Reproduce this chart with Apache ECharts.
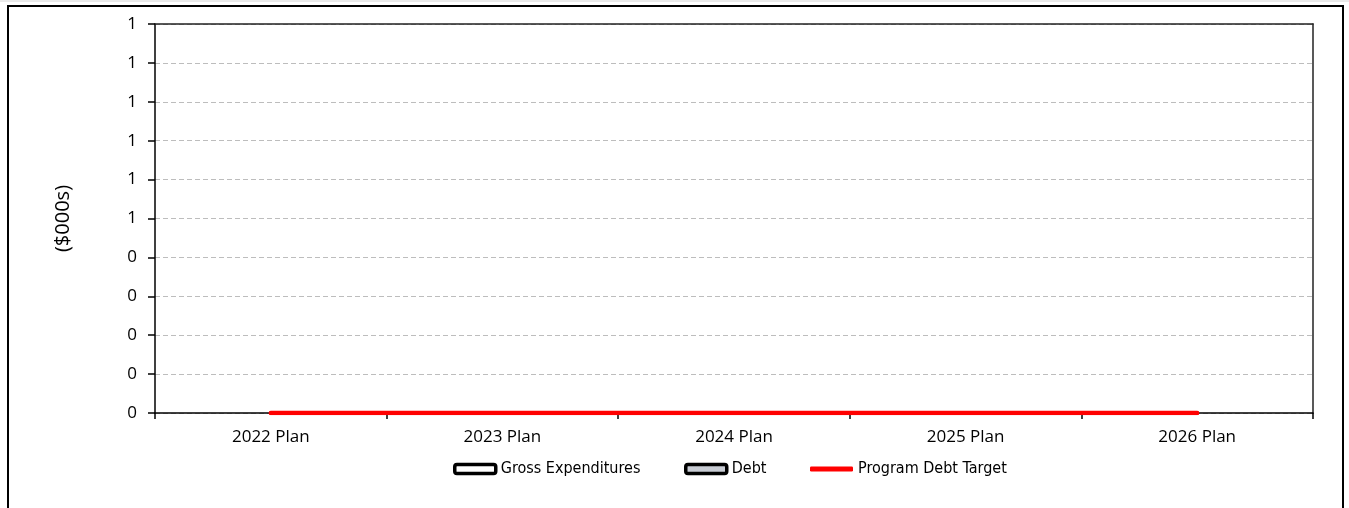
<!DOCTYPE html>
<html>
<head>
<meta charset="utf-8">
<script src="https://cdn.jsdelivr.net/npm/echarts@6/dist/echarts.min.js"></script>
<style>
html,body{margin:0;padding:0;background:#fff;}
#chart{width:1349px;height:508px;}
</style>
</head>
<body>
<div id="chart"></div>
<script>
const categories = ['2022 Plan', '2023 Plan', '2024 Plan', '2025 Plan', '2026 Plan'];
const grossExpenditures = [0, 0, 0, 0, 0];
const debt = [0, 0, 0, 0, 0];
const programDebtTarget = [0, 0, 0, 0, 0];
const yMin = 0, yMax = 1, yInterval = 0.1;
const yTitle = '($000s)';
const seriesNames = ['Gross Expenditures', 'Debt', 'Program Debt Target'];

const FONT = "'Open Sans', sans-serif";
const LFONT = "'DejaVu Sans Condensed', 'Liberation Sans Narrow', sans-serif";

const chart = echarts.init(document.getElementById('chart'), null, {renderer: 'canvas'});
const legendText = {fontFamily: LFONT, fontSize: 16, color: '#000'};
chart.setOption({
  animation: false,
  backgroundColor: '#fff',
  graphic: [{
    type: 'rect', shape: {x: 8, y: 6, width: 1335, height: 530},
    style: {fill: 'none', stroke: '#000', lineWidth: 2}, silent: true, z: -1
  }, {
    type: 'line', shape: {x1: 0, y1: 1, x2: 1349, y2: 1},
    style: {stroke: '#d4d4d4', lineWidth: 1}, silent: true, z: -1
  }],
  grid: {left: 155, right: 36, top: 24, bottom: 95, containLabel: false},
  legend: [
    {left: 453, top: 461, padding: 0, itemWidth: 41, itemHeight: 9, textStyle: legendText,
     data: [{name: seriesNames[0], icon: 'roundRect', itemStyle: {color: '#fff', borderColor: '#000', borderWidth: 3.5}}]},
    {left: 684, top: 461, padding: 0, itemWidth: 41, itemHeight: 9, textStyle: legendText,
     data: [{name: seriesNames[1], icon: 'roundRect', itemStyle: {color: '#c8ccd4', borderColor: '#000', borderWidth: 3.5}}]},
    {left: 810, top: 461, padding: 0, itemWidth: 43, itemHeight: 5, textStyle: legendText,
     data: [{name: seriesNames[2], icon: 'roundRect', itemStyle: {color: '#ff0000', borderWidth: 0}}]}
  ],
  xAxis: [{
    type: 'category', data: categories, boundaryGap: true,
    axisLine: {show: true, onZero: false, lineStyle: {color: '#000', width: 1.5}},
    axisTick: {show: true, inside: false, length: 6, alignWithLabel: false, lineStyle: {color: '#000', width: 1.5}},
    axisLabel: {fontFamily: FONT, fontSize: 17, color: '#000', margin: 16},
    splitLine: {show: false}
  }, {
    type: 'category', data: categories, position: 'top', boundaryGap: true,
    axisLine: {show: true, onZero: false, lineStyle: {color: '#222', width: 1.5}},
    axisTick: {show: false}, axisLabel: {show: false}, splitLine: {show: false}
  }],
  yAxis: [{
    type: 'value', min: yMin, max: yMax, interval: yInterval,
    name: yTitle, nameLocation: 'middle', nameRotate: 90, nameGap: 82,
    nameTextStyle: {fontFamily: FONT, fontSize: 20, color: '#000'},
    axisLine: {show: true, onZero: false, lineStyle: {color: '#000', width: 1.5}},
    axisTick: {show: true, inside: false, length: 7, lineStyle: {color: '#000', width: 1.5}},
    axisLabel: {fontFamily: FONT, fontSize: 17, color: '#000', margin: 18,
      formatter: v => String(Math.round(v))},
    splitLine: {show: true, lineStyle: {color: '#bdbdbd', type: [5, 3], width: 1}}
  }, {
    type: 'value', min: yMin, max: yMax, interval: yInterval, position: 'right',
    axisLine: {show: true, onZero: false, lineStyle: {color: '#222', width: 1.5}},
    axisTick: {show: false}, axisLabel: {show: false}, splitLine: {show: false}
  }],
  series: [
    {name: seriesNames[0], type: 'bar', data: grossExpenditures, barWidth: '40%',
     itemStyle: {color: '#fff', borderColor: '#000', borderWidth: 0}},
    {name: seriesNames[1], type: 'bar', data: debt, barWidth: '40%',
     itemStyle: {color: '#c8ccd4', borderColor: '#000', borderWidth: 0}},
    {name: seriesNames[2], type: 'line', data: programDebtTarget, symbol: 'none', z: 10,
     lineStyle: {color: '#ff0000', width: 4.5, cap: 'round'}, itemStyle: {color: '#ff0000'}}
  ]
});
</script>
</body>
</html>
